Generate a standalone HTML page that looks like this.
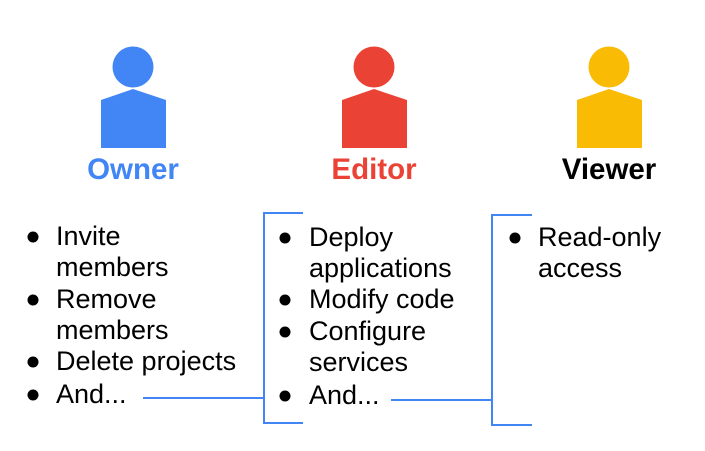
<!DOCTYPE html>
<html><head><style>body{margin:0;background:#fff}svg{display:block}</style></head>
<body>
<svg width="705" height="451" xmlns="http://www.w3.org/2000/svg" font-family="Liberation Sans, Arial, sans-serif">
<g fill="#4285F4">
<circle cx="133" cy="67" r="20.5"/>
<polygon points="101,100 133,89 166,100 166,148 101,148"/>
</g>
<g fill="#EA4335">
<circle cx="374" cy="67" r="20.5"/>
<polygon points="342,100 374,89 407,100 407,148 342,148"/>
</g>
<g fill="#F9BB04">
<circle cx="609" cy="67" r="20.5"/>
<polygon points="577,100 609,89 642,100 642,148 577,148"/>
</g>
<g font-weight="bold" font-size="29.5" text-anchor="middle">
<text x="133" y="179" fill="#4285F4">Owner</text>
<text x="374" y="179" fill="#EA4335">Editor</text>
<text x="609" y="179" fill="#000">Viewer</text>
</g>
<g font-size="27" fill="#000">
<text x="56" y="245">Invite</text>
<text x="56" y="276">members</text>
<text x="56" y="308">Remove</text>
<text x="56" y="339">members</text>
<text x="56" y="370">Delete projects</text>
<text x="56" y="403">And...</text>
<text x="309" y="246">Deploy</text>
<text x="309" y="277">applications</text>
<text x="309" y="308">Modify code</text>
<text x="309" y="340">Configure</text>
<text x="309" y="371">services</text>
<text x="309" y="404">And...</text>
<text x="538" y="246">Read-only</text>
<text x="538" y="277">access</text>
</g>
<g fill="#000">
<circle cx="33" cy="237" r="5.5"/>
<circle cx="33" cy="300" r="5.5"/>
<circle cx="33" cy="362" r="5.5"/>
<circle cx="33" cy="395" r="5.5"/>
<circle cx="285" cy="238" r="5.5"/>
<circle cx="285" cy="300" r="5.5"/>
<circle cx="285" cy="332" r="5.5"/>
<circle cx="285" cy="396" r="5.5"/>
<circle cx="515" cy="238" r="5.5"/>
</g>
<g stroke="#4285F4" stroke-width="2" fill="none">
<polyline points="303,213 264,213 264,423 303,423"/>
<line x1="143" y1="398" x2="264" y2="398"/>
<polyline points="532,215 492,215 492,425 532,425"/>
<line x1="391" y1="400" x2="492" y2="400"/>
</g>
</svg>
</body></html>
